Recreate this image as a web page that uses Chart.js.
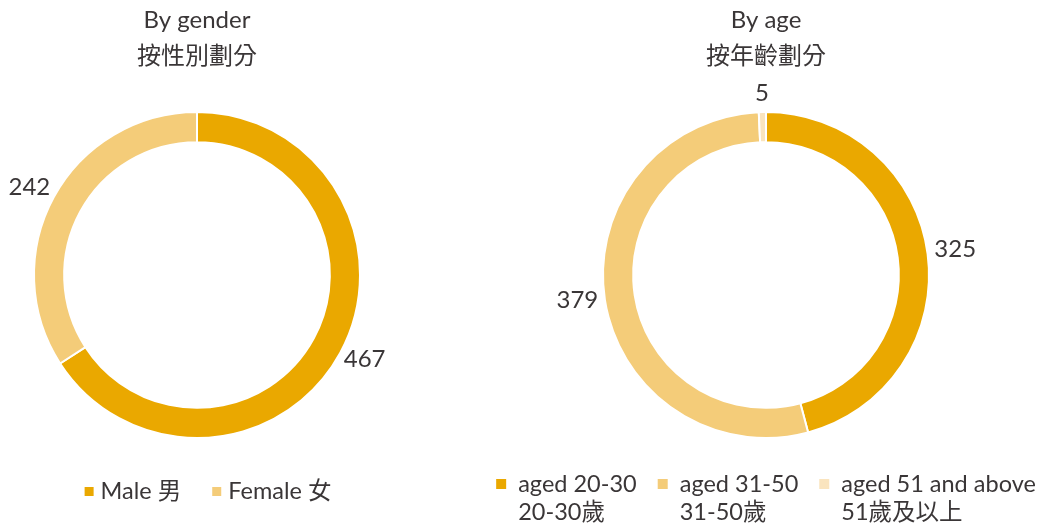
<!DOCTYPE html>
<html>
<head>
<meta charset="utf-8">
<script src="https://cdn.jsdelivr.net/npm/chart.js@4/dist/chart.umd.min.js"></script>
<style>
  html, body { margin: 0; padding: 0; background: #fff; }
  body { width: 1043px; height: 523px; position: relative; overflow: hidden; }
  .box { position: absolute; top: 0; height: 523px; }
  #leftBox { left: 0; width: 394px; }
  #rightBox { left: 489px; width: 554px; }
</style>
</head>
<body>
<div class="box" id="leftBox"><canvas id="gender"></canvas></div>
<div class="box" id="rightBox"><canvas id="age"></canvas></div>
<script>
// ---- data ----
const genderTitle = ['By gender', '按性別劃分'];
const genderLabels = [['Male 男'], ['Female 女']];
const genderValues = [467, 242];

const ageTitle = ['By age', '按年齡劃分'];
const ageLabels = [['aged 20-30', '20-30歲'], ['aged 31-50', '31-50歲'], ['aged 51 and above', '51歲及以上']];
const ageValues = [325, 379, 5];

const genderColors = ['#EAA800', '#F4CC79'];
const ageColors = ['#EAA800', '#F4CC79', '#FAE4BE'];

const FONT = "Lato, 'Noto Sans CJK TC', 'Noto Sans', sans-serif";
const TEXT = '#3a3637';

const decorPlugin = {
  id: 'decor',
  afterDraw(chart, args, opts) {
    const ctx = chart.ctx;
    const area = chart.chartArea;
    const cx = (area.left + area.right) / 2;
    ctx.save();
    ctx.fillStyle = TEXT;
    ctx.font = '24px ' + FONT;
    ctx.textAlign = 'center';
    ctx.textBaseline = 'middle';
    // titles
    opts.title.forEach((t, i) => ctx.fillText(t, cx, 20 + i * 36));
    // value labels outside the ring
    ctx.font = '24px ' + FONT;
    const meta = chart.getDatasetMeta(0);
    const vals = chart.data.datasets[0].data;
    meta.data.forEach((arc, i) => {
      const p = arc.getProps(['x', 'y', 'startAngle', 'endAngle', 'outerRadius'], true);
      const mid = (p.startAngle + p.endAngle) / 2;
      const txt = String(vals[i]);
      const w = ctx.measureText(txt).width;
      const h = 20;
      const r = p.outerRadius + 7;
      const x = p.x + r * Math.cos(mid) + (w / 2) * Math.cos(mid);
      const y = p.y + r * Math.sin(mid) + (h / 2) * Math.sin(mid) - 2;
      ctx.fillText(txt, x, y);
    });
    // legend
    const lg = opts.legend;
    ctx.font = '23.5px ' + FONT;
    ctx.textAlign = 'left';
    const labels = chart.data.labels;
    const colors = chart.data.datasets[0].backgroundColor;
    const widths = labels.map(l => Math.max(...l.map(s => ctx.measureText(s).width)));
    const itemW = widths.map(w => lg.box + lg.boxGap + w);
    const total = itemW.reduce((a, b) => a + b, 0) + lg.itemGap * (labels.length - 1);
    let x = cx - total / 2 + lg.shift;
    labels.forEach((l, i) => {
      ctx.fillStyle = colors[i];
      ctx.fillRect(x, lg.boxY, lg.box, lg.box);
      ctx.fillStyle = TEXT;
      l.forEach((s, j) => ctx.fillText(s, x + lg.box + lg.boxGap, lg.y + j * lg.lineH));
      x += itemW[i] + lg.itemGap;
    });
    ctx.restore();
  }
};

function makeChart(id, labels, values, colors, title, legend, sidePad) {
  return new Chart(document.getElementById(id), {
    type: 'doughnut',
    data: {
      labels: labels,
      datasets: [{
        data: values,
        backgroundColor: colors,
        borderColor: '#ffffff',
        borderWidth: 2,
        hoverOffset: 0
      }]
    },
    options: {
      responsive: true,
      maintainAspectRatio: false,
      animation: false,
      cutout: '81.5%',
      layout: { padding: { top: 111, bottom: 84, left: sidePad, right: sidePad } },
      plugins: {
        legend: { display: false },
        title: { display: false },
        tooltip: { enabled: false },
        decor: { title: title, legend: legend }
      }
    },
    plugins: [decorPlugin]
  });
}

makeChart('gender', genderLabels, genderValues, genderColors, genderTitle,
  { y: 491, boxY: 487, box: 9, boxGap: 7, itemGap: 31, lineH: 28, shift: 11 }, 20);
makeChart('age', ageLabels, ageValues, ageColors, ageTitle,
  { y: 484, boxY: 479, box: 10, boxGap: 12, itemGap: 21, lineH: 28, shift: 0 }, 20);
</script>
</body>
</html>
